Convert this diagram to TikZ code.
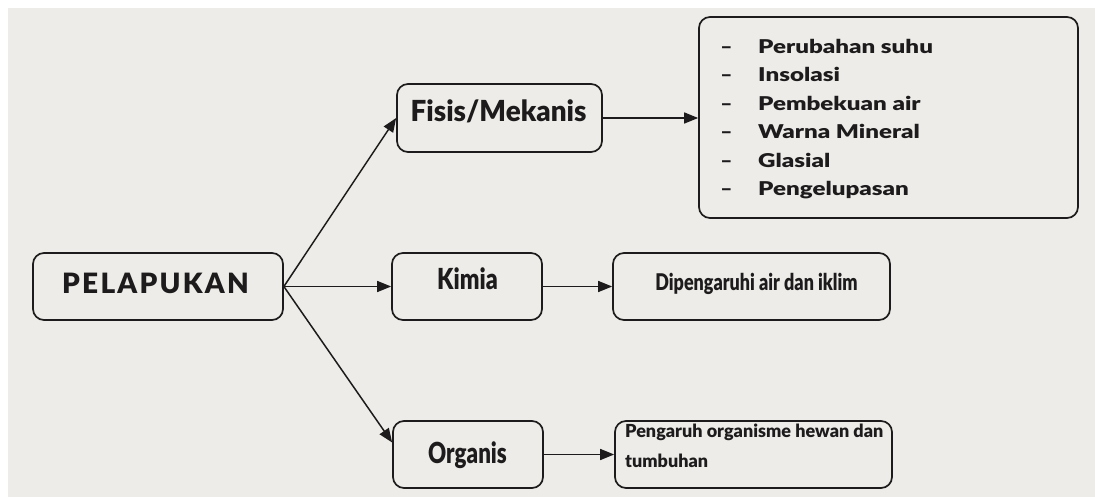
\documentclass[tikz,border=0pt]{standalone}
\usepackage{fontspec}
\setmainfont{Lato}
\newfontfamily\hv{Lato Black}
\usetikzlibrary{arrows.meta}
\definecolor{bg}{HTML}{EDECE8}
\definecolor{ink}{HTML}{1E1B1C}
\begin{document}
\begin{tikzpicture}[x=1pt,y=-1pt,
  box/.style={draw=ink, line width=1.7pt, rounded corners=11pt, fill=bg, inner sep=0pt},
  conn/.style={draw=ink, line width=1.5pt, -{Triangle[length=14pt,width=11pt]}},
  lbl/.style={text=ink, inner sep=0pt}]
\fill[white] (0,0) rectangle (1095,497);
\fill[bg] (8,8) rectangle (1095,497);
\useasboundingbox (0,0) rectangle (1095,497);
% boxes
\node[box, minimum width=250pt, minimum height=67pt] (pel) at (158,286.5) {};
\node[box, minimum width=205pt, minimum height=68pt] (fis) at (499.5,118) {};
\node[box, minimum width=150pt, minimum height=67pt] (kim) at (467,286.5) {};
\node[box, minimum width=150pt, minimum height=67pt] (org) at (468,454.5) {};
\node[box, minimum width=379pt, minimum height=201pt] (lst) at (888.5,117.5) {};
\node[box, minimum width=277pt, minimum height=67pt] (dip) at (751.5,286.5) {};
\node[box, minimum width=277pt, minimum height=67pt] (pen) at (753.5,454.5) {};
% labels
\node[lbl, anchor=base, font=\fontsize{28}{30}\hv\addfontfeature{LetterSpace=8}] (pelT) at (155.5,293) {PELAPUKAN};
\node[lbl, anchor=base, font=\fontsize{29}{31}\hv] (fisT) at (498.5,122) {\scalebox{0.96}[1]{Fisis/Mekanis}};
\node[lbl, anchor=base, font=\fontsize{29}{31}\hv] (kimT) at (467.5,289) {\scalebox{0.8}[1]{Kimia}};
\node[lbl, anchor=base, font=\fontsize{29}{31}\hv] (orgT) at (467.5,463) {\scalebox{0.77}[1]{Organis}};
\node[lbl, anchor=base, font=\fontsize{23}{25}\hv] (dipT) at (756.5,290) {\scalebox{0.78}[1]{Dipengaruhi air dan iklim}};
\node[lbl, anchor=base west, font=\fontsize{18}{20}\hv] (penT1) at (625,437) {\scalebox{1.0}[1]{Pengaruh organisme hewan dan}};
\node[lbl, anchor=base west, font=\fontsize{18}{20}\hv] (penT2) at (625,467) {\scalebox{1.0}[1]{tumbuhan}};
\foreach \t [count=\i from 0] in {Perubahan suhu, Insolasi, Pembekuan air, Warna Mineral, Glasial, Pengelupasan} {
  \node[lbl, anchor=base west, font=\fontsize{19}{21}\hv] (li\i) at (758,53.3+28.5*\i) {\scalebox{1.27}[1]{\t}};
  \node[lbl, anchor=base, font=\fontsize{19}{21}\hv] (d\i) at (726.5,53.3+28.5*\i) {\scalebox{1.1}[1]{–}};
}
% connectors
\draw[conn] (pel.east) -- (fis.west);
\draw[conn] (pel.east) -- (kim.west);
\draw[conn] (pel.east) -- ([yshift=12pt]org.west);
\draw[conn] (fis.east) -- (fis.east -| lst.west);
\draw[conn] (kim.east) -- (dip.west);
\draw[conn] (org.east) -- (org.east -| pen.west);
\end{tikzpicture}
\end{document}
